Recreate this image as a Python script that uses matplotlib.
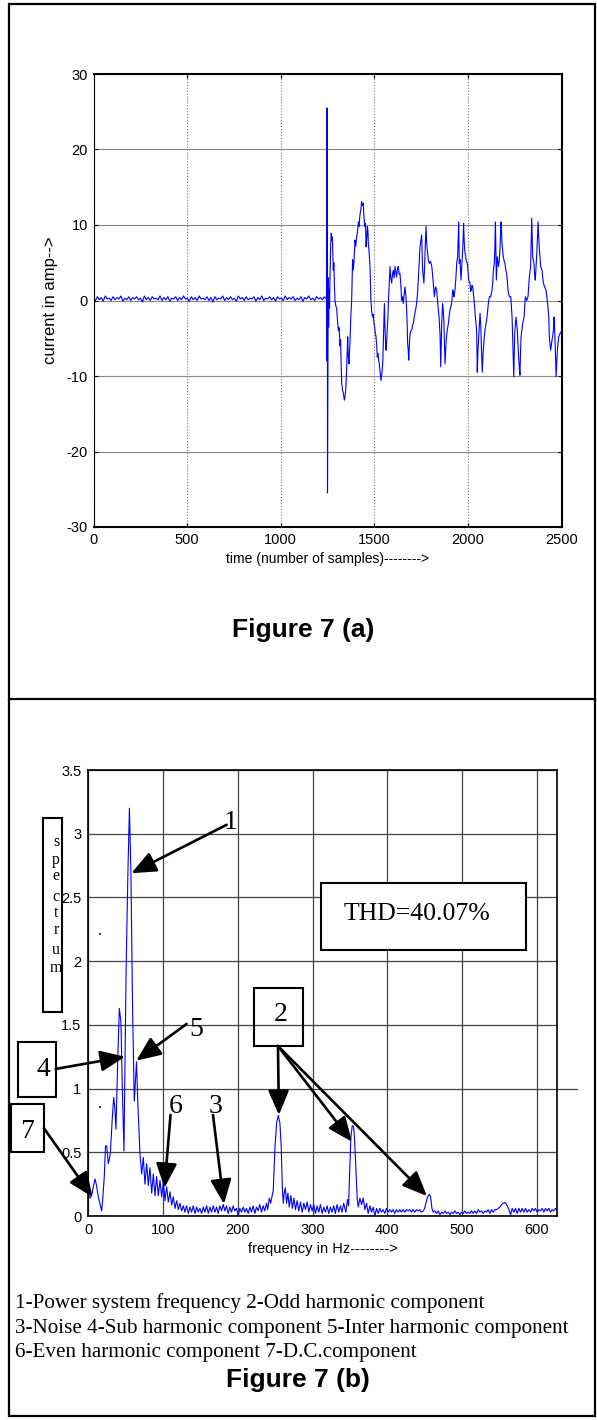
import numpy as np
import matplotlib.pyplot as plt
from matplotlib.patches import Rectangle

plt.rcParams['axes.unicode_minus'] = False

# ---- Figure 7(a): fault current (amp) vs sample number ----
# pre-fault baseline (noisy band just above zero), samples 0..1244
baseline_current = [
    0.3, 0.0, 0.5, 0.1, 0.4, -0.1, 0.6, 0.2, 0.3, 0.0, 0.5, 0.1, 0.4, 0.2, 0.6, -0.1,
    0.3, 0.1, 0.5, 0.0, 0.4, 0.2, 0.5, 0.1, 0.3, -0.2, 0.6, 0.1, 0.4, 0.0, 0.5, 0.2,
    0.3, 0.1, 0.6, 0.0, 0.4, 0.1, 0.5, -0.1, 0.3, 0.2, 0.5, 0.0, 0.4, 0.1, 0.6, 0.2,
    0.3, -0.1, 0.5, 0.1, 0.4, 0.0, 0.6, 0.2, 0.3, 0.1, 0.5, 0.0, 0.4, -0.2, 0.5, 0.1,
    0.3, 0.2, 0.6, 0.0, 0.4, 0.1, 0.5, 0.1, 0.3, -0.1, 0.6, 0.2, 0.4, 0.0, 0.5, 0.1,
    0.3, 0.2, 0.5, -0.1, 0.4, 0.1, 0.6, 0.0, 0.3, 0.2, 0.5, 0.1, 0.4, -0.1, 0.5, 0.2,
    0.3, 0.0, 0.6, 0.1, 0.4, 0.2, 0.5, 0.0, 0.3, 0.1, 0.5, -0.1, 0.4, 0.2, 0.6, 0.1,
    0.3, 0.0, 0.5, 0.2, 0.4, 0.1, 0.5, 0.2,
]

# fault inception at ~1247 samples and the distorted current after it
fault_samples = [
    1245, 1247, 1248, 1249, 1250, 1252, 1254, 1256, 1258, 1261, 1264, 1267, 1270, 1273, 1276,
    1281, 1284, 1287, 1290, 1295, 1299, 1303, 1308, 1312, 1317, 1320, 1324, 1326, 1330, 1335,
    1340, 1344, 1347, 1350, 1352, 1355, 1358, 1361, 1365, 1368, 1370, 1374, 1379, 1382, 1384,
    1387, 1391, 1394, 1397, 1401, 1406, 1410, 1415, 1418, 1424, 1428, 1432, 1436, 1441, 1445,
    1450, 1453, 1456, 1460, 1463, 1466, 1468, 1472, 1477, 1480, 1482, 1486, 1491, 1495, 1498,
    1502, 1505, 1509, 1513, 1516, 1520, 1524, 1527, 1531, 1536, 1540, 1545, 1549, 1554, 1557,
    1560, 1563, 1567, 1570, 1573, 1575, 1580, 1584, 1588, 1593, 1597, 1602, 1606, 1611, 1615,
    1619, 1624, 1628, 1633, 1637, 1642, 1646, 1651, 1655, 1660, 1664, 1669, 1673, 1676, 1678,
    1681, 1684, 1688, 1691, 1696, 1700, 1705, 1709, 1713, 1717, 1722, 1726, 1731, 1735, 1740,
    1744, 1749, 1753, 1756, 1758, 1762, 1765, 1770, 1776, 1780, 1783, 1788, 1794, 1800, 1807,
    1811, 1815, 1821, 1825, 1828, 1833, 1836, 1839, 1843, 1846, 1851, 1855, 1858, 1860, 1865,
    1869, 1872, 1875, 1878, 1883, 1887, 1890, 1896, 1900, 1904, 1909, 1913, 1919, 1923, 1926,
    1931, 1936, 1940, 1945, 1948, 1951, 1954, 1958, 1963, 1969, 1972, 1975, 1977, 1980, 1983,
    1990, 1997, 2001, 2004, 2011, 2015, 2018, 2022, 2026, 2033, 2040, 2045, 2047, 2050, 2054,
    2058, 2062, 2065, 2069, 2072, 2077, 2080, 2083, 2087, 2091, 2096, 2100, 2105, 2109, 2115,
    2122, 2126, 2129, 2133, 2136, 2141, 2144, 2147, 2150, 2152, 2157, 2164, 2168, 2172, 2175,
    2177, 2180, 2182, 2189, 2194, 2198, 2203, 2207, 2211, 2214, 2221, 2229, 2233, 2236, 2239,
    2242, 2245, 2248, 2250, 2254, 2257, 2260, 2264, 2268, 2271, 2275, 2278, 2281, 2284, 2289,
    2293, 2300, 2304, 2307, 2311, 2314, 2321, 2325, 2328, 2335, 2338, 2341, 2344, 2346, 2353,
    2356, 2360, 2364, 2368, 2372, 2375, 2378, 2382, 2386, 2389, 2396, 2400, 2403, 2410, 2417,
    2424, 2429, 2432, 2435, 2440, 2442, 2446, 2449, 2454, 2457, 2460, 2463, 2466, 2469, 2471,
    2475, 2478, 2482, 2485, 2490, 2496,
]
fault_current = [
    0.2, 25.5, -8.0, 25.3, -25.5, -9.0, 3.0, -3.5, 1.5, -1.0, 4.0, 7.5, 8.9, 8.0, 8.4,
    4.0, 5.0, 2.0, 0.0, -0.8, -1.0, -2.5, -4.0, -3.6, -6.0, -5.2, -9.5, -11.0, -11.8, -12.3,
    -13.2, -12.6, -12.0, -10.5, -9.2, -7.0, -4.8, -7.5, -8.4, -6.5, -5.7, -2.5, 0.0, 3.0, 5.4,
    4.0, 4.9, 6.5, 8.0, 7.2, 8.5, 9.0, 10.4, 9.8, 11.5, 12.0, 13.1, 12.6, 12.9, 11.0,
    9.8, 10.2, 7.1, 8.5, 9.8, 9.2, 7.6, 6.5, 4.5, 2.0, 0.0, -1.5, -2.2, -1.8, -3.0,
    -3.5, -4.2, -4.8, -6.0, -7.5, -7.0, -8.0, -8.4, -9.5, -10.6, -9.8, -8.4, -5.0, -0.4, -3.5,
    -5.5, -6.6, -5.0, -3.5, -2.0, -0.4, 2.5, 4.5, 3.0, 2.3, 3.5, 4.0, 3.0, 4.5, 3.8,
    3.1, 4.2, 4.5, 3.5, 3.6, 2.0, 0.0, 0.5, -0.4, 1.0, 1.8, 0.5, -1.3, -3.5, -5.7,
    -6.5, -7.9, -5.5, -4.4, -4.0, -3.9, -3.2, -3.0, -2.2, -1.7, -1.0, -0.4, 1.0, 2.7, 5.0,
    7.1, 8.0, 8.7, 6.0, 4.0, 3.0, 2.3, 5.5, 9.8, 7.5, 6.7, 5.5, 4.9, 5.2, 4.5,
    3.5, 2.3, 0.5, 1.5, 1.8, 1.4, 0.5, -0.4, -1.5, -2.2, -4.4, -8.8, -5.0, -3.0, -0.4,
    -1.5, -3.0, -6.0, -8.4, -5.7, -4.5, -3.9, -3.0, -2.0, -1.3, -0.8, -0.4, 1.4, 1.0, 0.5,
    1.4, 3.0, 4.9, 5.8, 8.0, 10.4, 4.9, 5.4, 2.7, 5.4, 6.7, 8.5, 10.2, 8.0, 6.7,
    5.4, 4.9, 3.8, 2.7, 2.3, 1.2, 1.4, 2.0, 1.8, 0.0, -2.2, -3.5, -4.4, -9.5, -6.5,
    -4.8, -3.0, -1.7, -3.5, -6.2, -9.5, -7.5, -6.2, -5.0, -3.9, -3.2, -2.6, -1.5, -0.4, 0.5,
    0.5, 1.0, 1.4, 2.5, 4.0, 4.9, 7.0, 10.4, 6.0, 2.7, 5.8, 4.5, 5.5, 7.1, 9.0,
    10.4, 9.0, 7.6, 5.8, 5.2, 4.9, 4.0, 3.6, 2.5, 1.4, 0.5, 0.5, -1.0, -2.2, -4.8,
    -7.0, -10.1, -7.0, -4.4, -3.0, -2.2, -3.0, -3.9, -6.0, -7.5, -9.0, -9.9, -7.0, -4.8, -3.8,
    -3.0, -2.2, -0.5, 0.5, 0.2, 0.0, 0.5, 2.0, 3.1, 4.5, 7.5, 10.9, 8.0, 5.8, 4.9,
    3.5, 2.7, 4.5, 6.2, 8.5, 10.4, 8.5, 6.7, 5.5, 4.5, 4.0, 3.0, 2.3, 1.8, 1.4,
    0.0, -1.2, -2.2, -4.8, -6.0, -6.6, -5.8, -5.3, -4.5, -3.9, -2.2, -3.5, -5.7, -8.0, -10.1,
    -8.0, -6.6, -5.5, -4.8, -4.5, -4.2,
]
time_ticks = [0, 500, 1000, 1500, 2000, 2500]
current_ticks = [-30, -20, -10, 0, 10, 20, 30]

# ---- Figure 7(b): amplitude spectrum vs frequency ----
freq_hz = [
    0.0, 2.5, 4.5, 7.0, 9.0, 11.0, 13.4, 15.5, 17.9, 19.5, 21.4, 23.0, 24.6, 26.8, 29.5,
    32.1, 34.0, 35.5, 37.0, 39.3, 41.5, 43.7, 45.5, 47.7, 50.5, 53.0, 55.0, 57.0, 59.3, 61.5,
    64.5, 66.5, 69.1, 71.4, 73.6, 75.8, 78.1, 80.3, 82.5, 84.8, 87.0, 89.2, 91.4, 93.7, 95.9,
    98.1, 100.4, 102.6, 104.8, 107.0, 109.3, 111.5, 113.7, 116.0, 118.2, 120.4, 122.6, 124.9,
    127.1, 129.3, 131.5, 133.8, 136.0, 138.2, 140.4, 142.7, 144.9, 147.1, 149.3, 151.6, 153.8,
    156.0, 158.2, 160.5, 162.7, 164.9, 167.1, 169.4, 171.6, 173.8, 176.0, 178.3, 180.5, 182.7,
    184.9, 187.2, 189.4, 191.6, 193.8, 196.1, 198.3, 200.5, 202.7, 205.0, 207.2, 209.4, 211.6,
    213.9, 216.1, 218.3, 220.5, 222.8, 225.0, 227.2, 229.4, 231.7, 233.9, 236.1, 238.3, 240.0,
    242.1, 243.9, 245.6, 247.4, 249.7, 251.9, 254.1, 256.3, 258.1, 259.5, 260.8, 262.1, 263.5,
    265.3, 267.0, 268.8, 271.0, 273.0, 275.0, 277.2, 279.4, 281.6, 283.9, 286.1, 288.3, 290.5,
    292.8, 295.0, 297.2, 299.4, 301.6, 303.9, 306.1, 308.3, 310.5, 312.8, 315.0, 317.2, 319.4,
    321.6, 323.9, 326.1, 328.3, 330.5, 332.8, 335.0, 337.2, 339.4, 341.6, 344.5, 346.8, 348.2,
    350.0, 351.3, 353.1, 354.9, 356.2, 358.0, 359.8, 361.1, 363.3, 365.6, 367.8, 370.0, 372.2,
    374.4, 376.7, 378.9, 381.1, 383.3, 385.6, 387.8, 390.0, 392.2, 394.4, 396.7, 398.9, 401.1,
    403.3, 405.5, 407.8, 410.0, 412.2, 414.4, 416.7, 418.9, 421.1, 423.3, 425.5, 427.8, 430.0,
    432.2, 434.4, 436.7, 438.9, 441.1, 443.3, 445.5, 448.1, 449.9, 451.6, 453.9, 456.1, 457.9,
    459.7, 461.5, 463.7, 466.0, 468.2, 470.4, 472.6, 474.9, 477.1, 479.3, 481.5, 483.8, 486.0,
    488.2, 490.4, 492.7, 494.9, 497.1, 499.3, 501.6, 503.8, 506.0, 508.2, 510.5, 512.7, 514.9,
    517.1, 519.4, 521.6, 523.8, 526.0, 528.3, 530.5, 532.7, 534.9, 537.2, 539.4, 541.6, 543.8,
    546.2, 548.4, 550.6, 552.8, 555.1, 557.3, 558.6, 560.4, 562.7, 564.9, 567.1, 569.3, 571.5,
    573.8, 576.0, 578.2, 580.4, 582.7, 584.9, 587.1, 589.3, 591.6, 593.8, 596.0, 598.2, 600.5,
    602.7, 604.9, 607.1, 609.4, 611.6, 613.8, 616.0, 618.3, 620.5, 622.7, 624.9, 627.0,
]
spectrum = [
    0.17, 0.14, 0.16, 0.24, 0.29, 0.24, 0.15, 0.10, 0.04, 0.15, 0.31, 0.55, 0.55, 0.41, 0.49,
    0.77, 0.93, 0.85, 0.68, 1.21, 1.63, 1.52, 1.00, 0.51, 1.90, 2.70, 3.20, 2.70, 1.60, 0.90,
    1.21, 0.85, 0.49, 0.33, 0.46, 0.25, 0.41, 0.24, 0.38, 0.18, 0.33, 0.16, 0.31, 0.16, 0.28,
    0.15, 0.27, 0.12, 0.23, 0.11, 0.19, 0.085, 0.15, 0.06, 0.12, 0.05, 0.10, 0.04,
    0.08, 0.03, 0.08, 0.02, 0.07, 0.03, 0.08, 0.02, 0.07, 0.03, 0.06, 0.02, 0.07,
    0.03, 0.08, 0.02, 0.07, 0.03, 0.08, 0.03, 0.07, 0.02, 0.08, 0.04, 0.09, 0.04,
    0.08, 0.02, 0.07, 0.03, 0.08, 0.04, 0.06, 0.00, 0.06, 0.03, 0.07, 0.03, 0.06,
    0.02, 0.07, 0.03, 0.08, 0.02, 0.07, 0.04, 0.09, 0.03, 0.08, 0.04, 0.10, 0.05,
    0.14, 0.10, 0.15, 0.20, 0.54, 0.73, 0.79, 0.73, 0.54, 0.23, 0.10, 0.18, 0.22,
    0.10, 0.18, 0.07, 0.16, 0.06, 0.14, 0.05, 0.12, 0.04, 0.11, 0.03, 0.10, 0.05,
    0.11, 0.03, 0.09, 0.04, 0.09, 0.02, 0.08, 0.03, 0.09, 0.02, 0.07, 0.03, 0.08,
    0.02, 0.07, 0.03, 0.08, 0.02, 0.09, 0.03, 0.08, 0.03, 0.10, 0.03, 0.13, 0.08,
    0.41, 0.62, 0.71, 0.70, 0.60, 0.36, 0.13, 0.07, 0.14, 0.09, 0.14, 0.05, 0.10,
    0.02, 0.08, 0.03, 0.07, 0.00, 0.06, 0.02, 0.06, 0.03, 0.05, 0.02, 0.06, 0.03,
    0.05, 0.03, 0.05, 0.02, 0.05, 0.03, 0.05, 0.03, 0.05, 0.03, 0.05, 0.04, 0.05,
    0.03, 0.05, 0.03, 0.05, 0.04, 0.05, 0.03, 0.04, 0.06, 0.10, 0.15, 0.17, 0.15,
    0.06, 0.03, 0.04, 0.02, 0.04, 0.01, 0.03, 0.02, 0.04, 0.02, 0.03, 0.01, 0.03,
    0.02, 0.04, 0.02, 0.03, 0.01, 0.03, 0.02, 0.04, 0.02, 0.03, 0.02, 0.04, 0.02,
    0.04, 0.02, 0.05, 0.03, 0.04, 0.02, 0.04, 0.03, 0.05, 0.02, 0.05, 0.03, 0.05,
    0.05, 0.06, 0.07, 0.09, 0.10, 0.105, 0.10, 0.08, 0.05, 0.01, 0.06, 0.03, 0.06,
    0.02, 0.06, 0.03, 0.06, 0.03, 0.06, 0.03, 0.05, 0.03, 0.06, 0.04, 0.06, 0.03,
    0.05, 0.04, 0.06, 0.03, 0.06, 0.04, 0.06, 0.03, 0.05, 0.04, 0.06, 0.05,
]
freq_ticks = [0, 100, 200, 300, 400, 500, 600]
spec_ticks = [0, 0.5, 1, 1.5, 2, 2.5, 3, 3.5]
spec_labels = ['0', '0.5', '1', '1.5', '2', '2.5', '3', '3.5']

legend_lines = [
    '1-Power system frequency 2-Odd harmonic component',
    '3-Noise 4-Sub harmonic component 5-Inter harmonic component',
    '6-Even harmonic component 7-D.C.component',
]

W, H = 597, 1420
SANS = 'Liberation Sans'
SERIF = 'Liberation Serif'
BLUE = '#0000ff'


def fx(px):
    return px / W


def fy(py):
    return 1 - py / H


fig = plt.figure(figsize=(W / 100, H / 100), dpi=100)

# outer table border and the divider between the two panels
fig.patches.append(Rectangle((fx(9), fy(1416)), fx(595) - fx(9), fy(4) - fy(1416),
                             transform=fig.transFigure, fill=False, lw=1.6, ec='black'))
fig.add_artist(plt.Line2D([fx(9), fx(595)], [fy(699), fy(699)],
                          transform=fig.transFigure, lw=1.6, color='black'))

# ---------- top panel ----------
ax1 = fig.add_axes([fx(93.5), fy(527), fx(561.5) - fx(93.5), fy(74) - fy(527)])
t = np.concatenate([np.linspace(0, 1244, len(baseline_current)), fault_samples])
cur = np.concatenate([baseline_current, fault_current])
ax1.plot(t, cur, color=BLUE, lw=0.8)
ax1.set_xlim(0, 2500)
ax1.set_ylim(-30, 30)
ax1.set_xticks(time_ticks)
ax1.set_yticks(current_ticks)
ax1.xaxis.grid(True, color='#777777', ls=':', lw=0.8)
ax1.yaxis.grid(True, color='#888888', ls='-', lw=0.8)
ax1.tick_params(direction='in', length=3, top=True, right=True, labelsize=10.5, pad=4)
for lab in ax1.get_xticklabels() + ax1.get_yticklabels():
    lab.set_family(SANS)
for side in ['top', 'right', 'bottom']:
    ax1.spines[side].set_linewidth(1.5)
ax1.spines['left'].set_linewidth(0.8)
ax1.set_xlabel('time (number of samples)-------->', family=SANS, fontsize=10, labelpad=4)
ax1.set_ylabel('current in amp-->', family=SANS, fontsize=12, labelpad=6)
fig.text(fx(303), fy(630), 'Figure 7 (a)', family=SANS, fontsize=19, weight='bold',
         ha='center', va='center')

# ---------- bottom panel ----------
ax2 = fig.add_axes([fx(88.3), fy(1216), fx(557) - fx(88.3), fy(770) - fy(1216)])
ax2.plot(freq_hz, spectrum, color=BLUE, lw=0.8)
ax2.set_xlim(0, 627)
ax2.set_ylim(0, 3.5)
ax2.set_xticks(freq_ticks)
ax2.set_yticks(spec_ticks)
ax2.set_yticklabels(spec_labels)
ax2.grid(True, color='#444444', ls='-', lw=0.9)
ax2.tick_params(direction='in', length=0, labelsize=10.5, pad=5)
for lab in ax2.get_xticklabels() + ax2.get_yticklabels():
    lab.set_family(SANS)
for sp in ax2.spines.values():
    sp.set_linewidth(1.2)
ax2.set_xlabel('frequency in Hz-------->', family=SANS, fontsize=10.5, labelpad=4)
# stray extension of the 1.0 grid line past the right edge
ax2.plot([627, 654], [1, 1], color='#444444', lw=0.9, clip_on=False)

arrow = dict(arrowstyle='-|>,head_length=0.75,head_width=0.32', color='black', lw=1.9,
             mutation_scale=20, shrinkA=0, shrinkB=0)


def point(tail, tip):
    ax2.annotate('', xy=tip, xytext=tail, arrowprops=arrow, annotation_clip=False)


point((185.0, 3.07), (57.6, 2.69))      # 1
point((-43.7, 1.154), (49.1, 1.25))     # 4
point((131.5, 1.507), (64.2, 1.219))    # 5
point((110.0, 0.793), (101.9, 0.22))    # 6
point((166.8, 0.793), (181.5, 0.094))   # 3
point((253.7, 1.334), (255.0, 0.793))   # 2
point((253.7, 1.334), (352.7, 0.583))
point((253.7, 1.334), (453.0, 0.157))
point((-59.5, 0.69), (5.6, 0.149))      # 7

num = dict(family=SERIF, fontsize=20, ha='center', va='center', clip_on=False)
ax2.text(189.8, 3.09, '1', **num)
ax2.text(144.0, 1.46, '5', **num)
ax2.text(117.3, 0.863, '6', **num)
ax2.text(170.8, 0.863, '3', **num)
ax2.text(257.7, 1.578, '2', **num)
ax2.text(-60.6, 1.146, '4', **num)
ax2.text(-82.0, 0.667, '7', **num)


def box(x0, x1, y0, y1, lw=1.5):
    ax2.add_patch(Rectangle((x0, y0), x1 - x0, y1 - y0, fill=False, ec='black', lw=lw,
                            clip_on=False, zorder=5))


box(221.1, 287.8, 1.334, 1.79)     # 2
box(-94.0, -43.7, 0.934, 1.366)    # 4
box(-102.8, -59.5, 0.502, 0.879)   # 7
box(310.7, 585.4, 2.088, 2.614)    # THD
box(-60.2, -34.8, 1.601, 3.124)    # spectrum label box
ax2.add_patch(Rectangle((312, 2.095), 272, 0.51, fc='white', ec='none', zorder=4,
                        clip_on=False))
ax2.text(439.5, 2.37, 'THD=40.07%', family=SERIF, fontsize=18.5, ha='center', va='center',
         zorder=6)

for ch, yv in zip('spectrum', [2.936, 2.794, 2.669, 2.504, 2.378, 2.245, 2.088, 1.947]):
    ax2.text(-43.2, yv, ch, family=SERIF, fontsize=11.5, ha='center', va='center',
             clip_on=False)
ax2.text(15.6, 2.174, '.', family=SERIF, fontsize=12, ha='center', va='bottom')
ax2.text(15.6, 0.816, '.', family=SERIF, fontsize=12, ha='center', va='bottom')

for i, line in enumerate(legend_lines):
    fig.text(fx(15), fy(1303 + 25 * i), line, family=SERIF, fontsize=15.2,
             ha='left', va='center')
fig.text(fx(298), fy(1380), 'Figure 7 (b)', family=SANS, fontsize=19, weight='bold',
         ha='center', va='center')

fig.savefig('out.png', dpi=100)
